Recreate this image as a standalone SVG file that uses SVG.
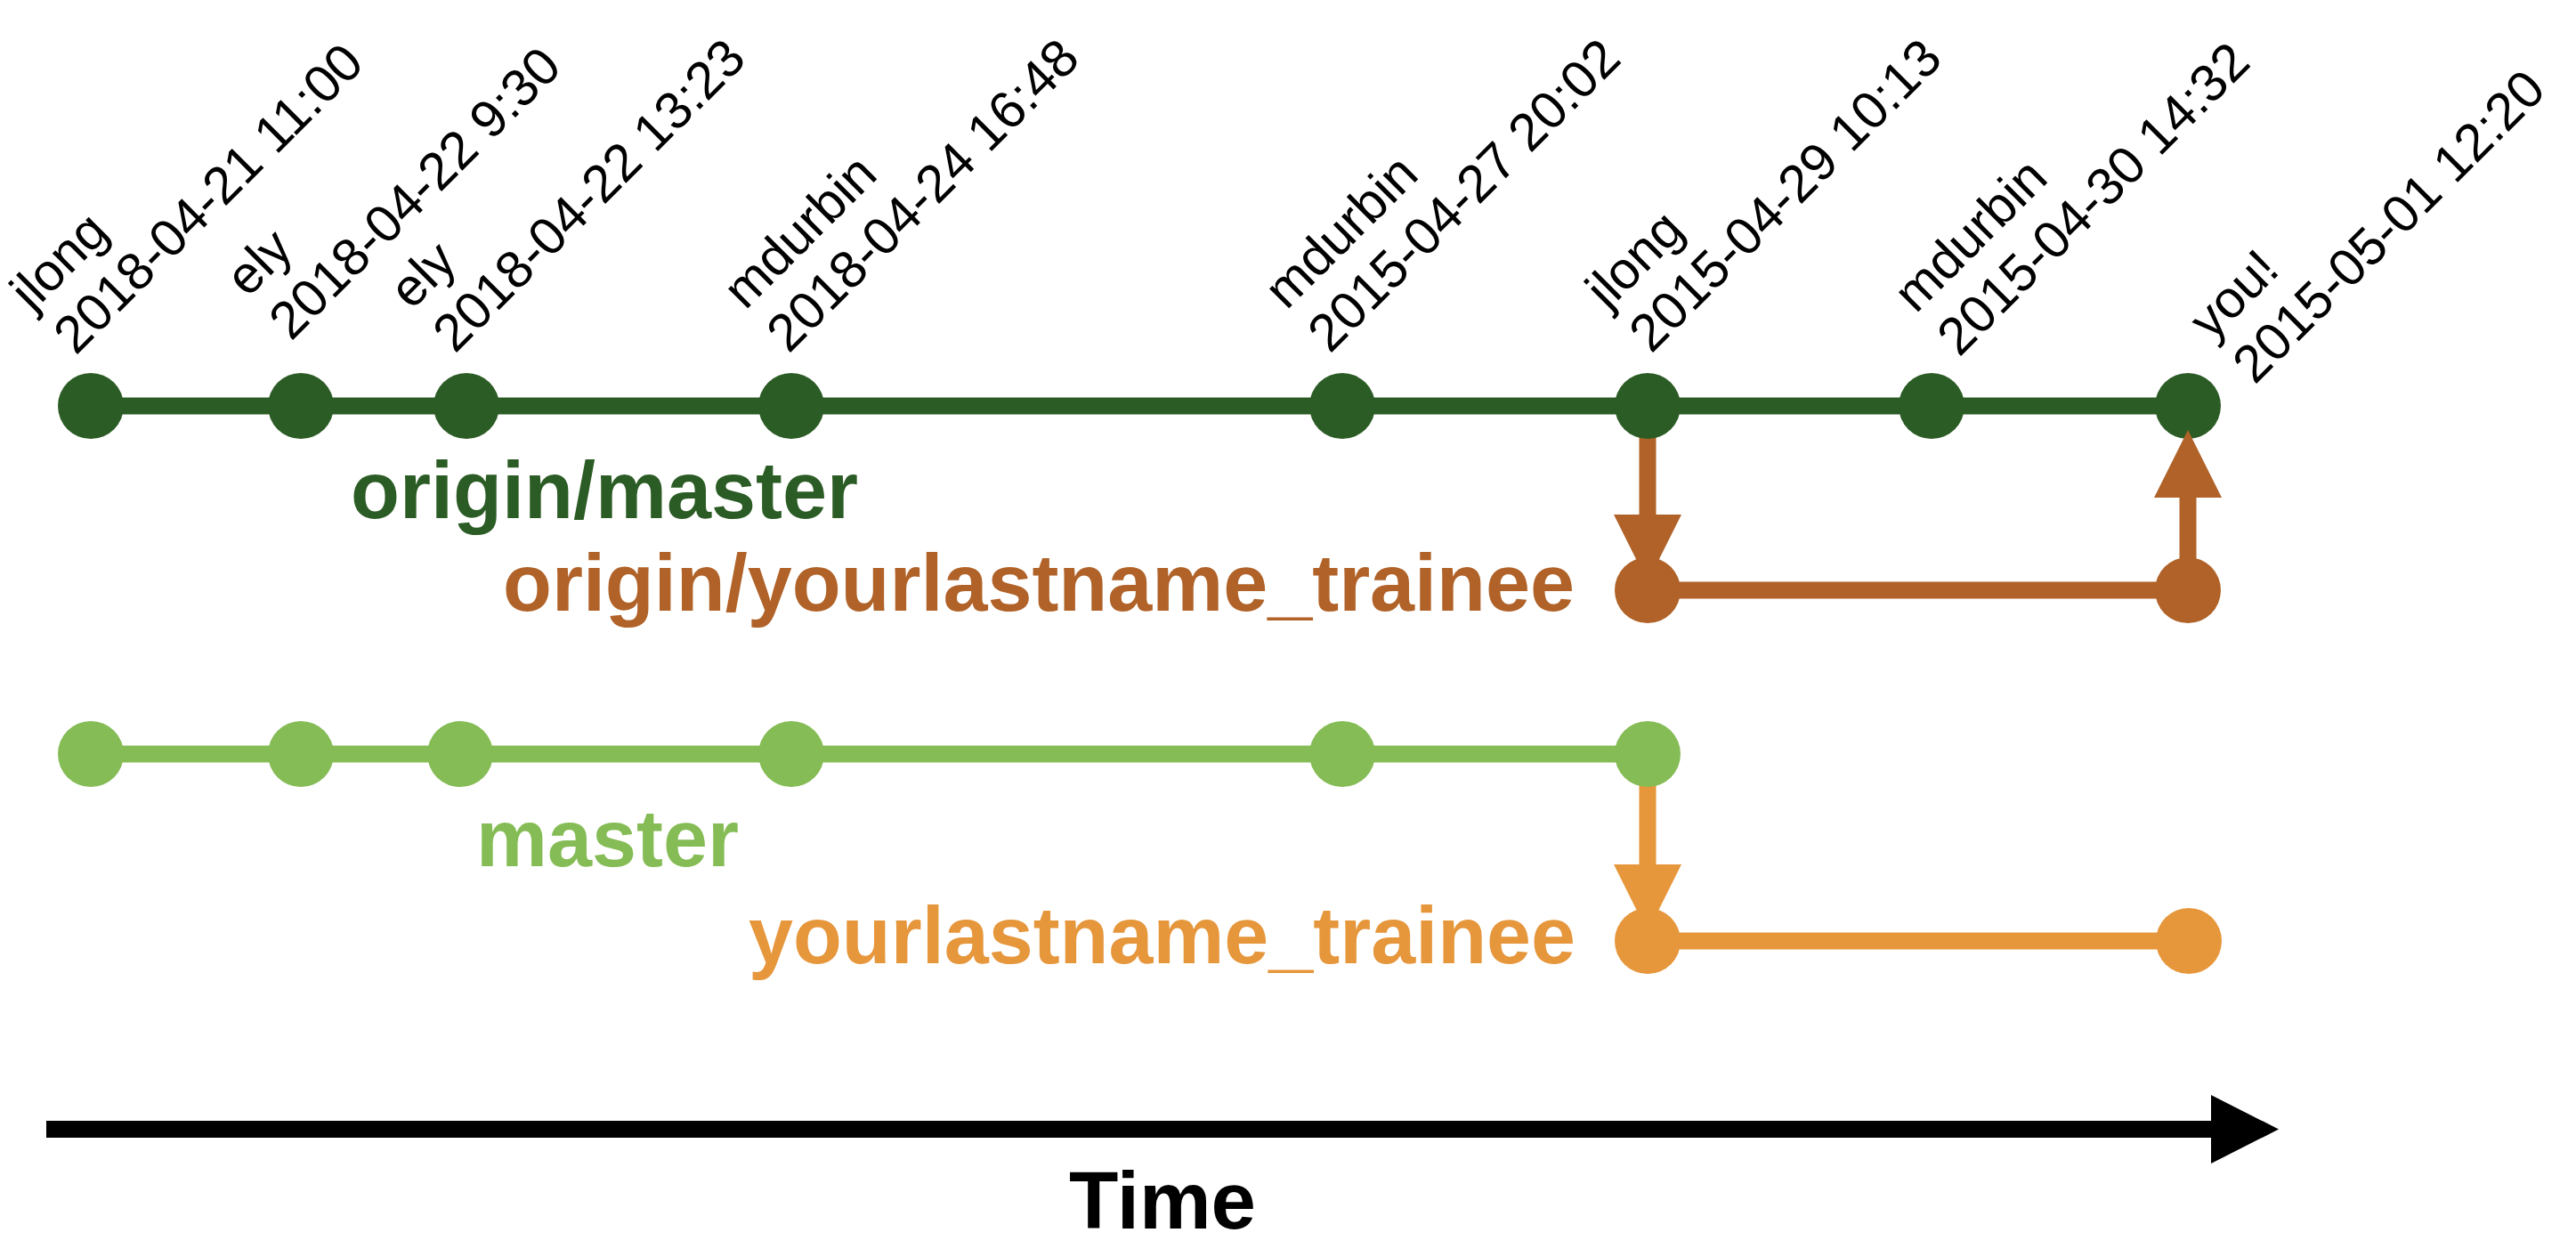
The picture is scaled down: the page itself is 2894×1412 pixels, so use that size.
<svg xmlns="http://www.w3.org/2000/svg" width="2894" height="1412" viewBox="0 0 2894 1412">
<style>
.dg{fill:#2C5C25}
.lg{fill:#85BC55}
.do{fill:#B06228}
.lo{fill:#E6963B}
.dgl{stroke:#2C5C25;stroke-width:19;fill:none}
.lgl{stroke:#85BC55;stroke-width:19;fill:none}
.dol{stroke:#B06228;stroke-width:19;fill:none}
.lol{stroke:#E6963B;stroke-width:19;fill:none}
.lbl{font-family:"Liberation Sans",Arial,Helvetica,sans-serif;font-size:59px;fill:#000}
.br{font-family:"Liberation Sans",Arial,Helvetica,sans-serif;font-size:90px;font-weight:bold}
</style>
<rect width="2894" height="1412" fill="#fff"/>
<g id="connectors">
  <line class="dgl" x1="102" y1="456" x2="2458" y2="456"/>
  <line class="lgl" x1="102" y1="847" x2="1851" y2="847"/>
  <line class="dol" x1="1851" y1="663" x2="2458" y2="663"/>
  <line class="lol" x1="1851" y1="1057" x2="2459" y2="1057"/>
  <line class="dol" x1="1851" y1="456" x2="1851" y2="580"/>
  <polygon class="do" points="1813,578 1889,578 1851,654"/>
  <line class="lol" x1="1851" y1="847" x2="1851" y2="973"/>
  <polygon class="lo" points="1813,971 1889,971 1851,1047"/>
  <line class="dgl" x1="52" y1="1268.5" x2="2486" y2="1268.5" style="stroke:#000"/>
  <polygon points="2484,1230 2560,1268.5 2484,1307" fill="#000"/>
</g>
<g id="origin-master">
  <g id="om1"><circle class="dg" cx="102" cy="456" r="37"/><g transform="translate(85,400) rotate(-45)"><text class="lbl"><tspan x="0" y="-69">jlong</tspan><tspan x="0" y="0">2018-04-21 11:00</tspan></text></g></g>
  <g id="om2"><circle class="dg" cx="338" cy="456" r="37"/><g transform="translate(327,384) rotate(-45)"><text class="lbl"><tspan x="0" y="-69">ely</tspan><tspan x="0" y="0">2018-04-22 9:30</tspan></text></g></g>
  <g id="om3"><circle class="dg" cx="524" cy="456" r="37"/><g transform="translate(511,398) rotate(-45)"><text class="lbl"><tspan x="0" y="-69">ely</tspan><tspan x="0" y="0">2018-04-22 13:23</tspan></text></g></g>
  <g id="om4"><circle class="dg" cx="889" cy="456" r="37"/><g transform="translate(886,398) rotate(-45)"><text class="lbl"><tspan x="0" y="-69">mdurbin</tspan><tspan x="0" y="0">2018-04-24 16:48</tspan></text></g></g>
  <g id="om5"><circle class="dg" cx="1508" cy="456" r="37"/><g transform="translate(1494,398) rotate(-45)"><text class="lbl"><tspan x="0" y="-69">mdurbin</tspan><tspan x="0" y="0">2015-04-27 20:02</tspan></text></g></g>
  <g id="om6"><circle class="dg" cx="1851" cy="456" r="37"/><g transform="translate(1855,398) rotate(-45)"><text class="lbl"><tspan x="0" y="-69">jlong</tspan><tspan x="0" y="0">2015-04-29 10:13</tspan></text></g></g>
  <g id="om7"><circle class="dg" cx="2170" cy="456" r="37"/><g transform="translate(2201,402) rotate(-45)"><text class="lbl"><tspan x="0" y="-69">mdurbin</tspan><tspan x="0" y="0">2015-04-30 14:32</tspan></text></g></g>
  <g id="om8"><circle class="dg" cx="2458" cy="456" r="37"/><g transform="translate(2533,433) rotate(-45)"><text class="lbl"><tspan x="0" y="-69">you!</tspan><tspan x="0" y="0">2015-05-01 12:20</tspan></text></g></g>
  <text id="label-origin-master" class="br dg" x="394" y="582" textLength="570" lengthAdjust="spacingAndGlyphs">origin/master</text>
</g>
<g id="origin-trainee">
  <g id="ot1"><circle class="do" cx="1851" cy="663" r="37"/></g>
  <g id="ot2"><circle class="do" cx="2458" cy="663" r="37"/></g>
  <text id="label-origin-trainee" class="br do" x="565" y="686" textLength="1204" lengthAdjust="spacingAndGlyphs">origin/yourlastname_trainee</text>
</g>
<g id="up-arrow">
  <line class="dol" x1="2458" y1="557" x2="2458" y2="663"/>
  <polygon class="do" points="2420,559 2496,559 2458,483"/>
</g>
<g id="master">
  <g id="m1"><circle class="lg" cx="102" cy="847" r="37"/></g>
  <g id="m2"><circle class="lg" cx="338" cy="847" r="37"/></g>
  <g id="m3"><circle class="lg" cx="517" cy="847" r="37"/></g>
  <g id="m4"><circle class="lg" cx="889" cy="847" r="37"/></g>
  <g id="m5"><circle class="lg" cx="1508" cy="847" r="37"/></g>
  <g id="m6"><circle class="lg" cx="1851" cy="847" r="37"/></g>
  <text id="label-master" class="br lg" x="535" y="973" textLength="295" lengthAdjust="spacingAndGlyphs">master</text>
</g>
<g id="trainee">
  <g id="t1"><circle class="lo" cx="1851" cy="1057" r="37"/></g>
  <g id="t2"><circle class="lo" cx="2459" cy="1057" r="37"/></g>
  <text id="label-trainee" class="br lo" x="841" y="1082" textLength="929" lengthAdjust="spacingAndGlyphs">yourlastname_trainee</text>
</g>
<g id="time">
  <text class="br" x="1201" y="1380" fill="#000" textLength="210" lengthAdjust="spacingAndGlyphs">Time</text>
</g>
</svg>
